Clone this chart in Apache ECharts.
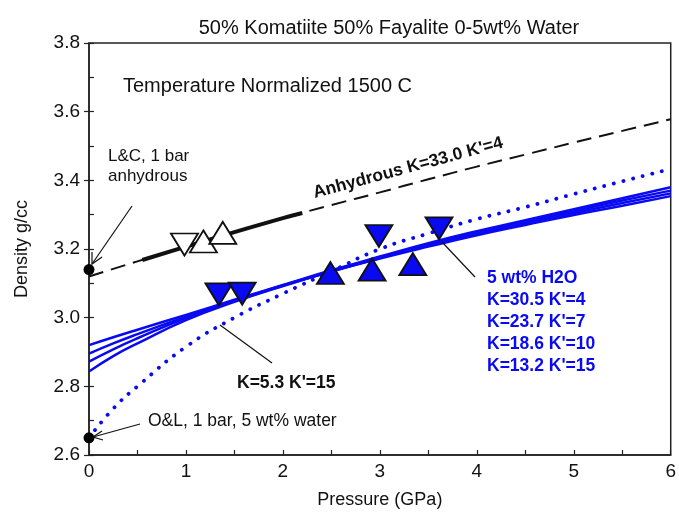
<!DOCTYPE html>
<html>
<head>
<meta charset="utf-8">
<script src="https://cdn.jsdelivr.net/npm/echarts@6/dist/echarts.min.js"></script>
<style>
  html, body { margin: 0; padding: 0; background: #fff; }
  #main { width: 679px; height: 514px; }
</style>
</head>
<body>
<div id="main"></div>
<script>
// pressure grid (GPa) shared by the model curves
var pressure = [0, 0.25, 0.5, 1, 1.5, 2, 2.5, 3, 3.5, 4, 4.5, 5, 5.5, 6];
// anhydrous fit K=33.0 K'=4
var anhydrous = [3.12, 3.142, 3.164, 3.207, 3.249, 3.29, 3.328, 3.365, 3.403, 3.44, 3.475, 3.51, 3.544, 3.578];
// solid part of the anhydrous curve (experimental range)
var anhSolidP = [0.55, 1, 1.5, 2, 2.2];
var anhSolidRho = [3.168, 3.207, 3.249, 3.29, 3.305];
// 5 wt% water fits
var wetK4 = [2.92, 2.943, 2.965, 3.008, 3.052, 3.095, 3.138, 3.178, 3.217, 3.252, 3.284, 3.316, 3.348, 3.38];
var wetK7 = [2.895, 2.925, 2.952, 3.003, 3.05, 3.094, 3.136, 3.176, 3.213, 3.247, 3.279, 3.31, 3.341, 3.37];
var wetK10 = [2.872, 2.908, 2.94, 2.999, 3.048, 3.093, 3.135, 3.174, 3.21, 3.243, 3.275, 3.305, 3.334, 3.362];
var wetK15 = [2.843, 2.888, 2.925, 2.993, 3.046, 3.092, 3.134, 3.172, 3.207, 3.24, 3.27, 3.299, 3.326, 3.354];
// K=5.3 K'=15 from 1 bar O&L density
var wetOL = [2.65, 2.735, 2.80, 2.915, 3.0, 3.07, 3.135, 3.2, 3.245, 3.287, 3.322, 3.36, 3.397, 3.433];

// measured points
var dryDown = [[0.985, 3.213]];
var dryUp = [[1.18, 3.222], [1.38, 3.247]];
var wetDown = [[1.34, 3.068], [1.58, 3.07], [2.99, 3.238], [3.61, 3.26]];
var wetUp = [[2.49, 3.13], [2.92, 3.14], [3.34, 3.156]];
// 1 bar reference densities
var oneBar = [[0, 3.14], [0, 2.65]];

var yTicks = [2.6, 2.8, 3.0, 3.2, 3.4, 3.6, 3.8];

function pairs(xs, ys) {
    return xs.map(function (x, i) { return [x, ys[i]]; });
}

var blue = '#0a0af2';
var font = '"Liberation Sans", Arial, sans-serif';

var myChart = echarts.init(document.getElementById('main'));

function curve(name, data, style) {
    return {
        name: name,
        type: 'line',
        smooth: true,
        showSymbol: false,
        data: data,
        lineStyle: style,
        z: 2
    };
}

function tri(data, down, fill, border) {
    return {
        type: 'scatter',
        symbol: 'triangle',
        symbolSize: [27, 22],
        symbolRotate: down ? 180 : 0,
        data: data,
        itemStyle: { color: fill, borderColor: border, borderWidth: 1.8, opacity: 1 },
        z: 5
    };
}

var option = {
    animation: false,
    textStyle: { fontFamily: font },
    title: {
        text: '50% Komatiite 50% Fayalite 0-5wt% Water',
        left: 384, top: 13, textAlign: 'center',
        textStyle: { fontSize: 20, fontWeight: 'normal', color: '#111', fontFamily: font }
    },
    grid: {
        left: 89, right: 4, top: 43, bottom: 58,
        show: true, borderColor: '#222', borderWidth: 1.5
    },
    xAxis: {
        type: 'value', min: 0, max: 6, interval: 1,
        name: 'Pressure (GPa)', nameLocation: 'middle', nameGap: 36,
        nameTextStyle: { fontSize: 18, color: '#111', fontFamily: font },
        axisLine: { lineStyle: { color: '#222', width: 1.5 } },
        axisTick: { inside: true, length: 5, lineStyle: { color: '#222', width: 1.2 } },
        minorTick: { show: true, splitNumber: 2, length: 5, lineStyle: { color: '#222', width: 1.2 } },
        splitLine: { show: false },
        axisLabel: { fontSize: 19, color: '#111', margin: 7, fontFamily: font }
    },
    yAxis: [{
        type: 'value', min: yTicks[0], max: yTicks[yTicks.length - 1], interval: 0.2,
        name: 'Density g/cc', nameLocation: 'middle', nameGap: 58,
        nameTextStyle: { fontSize: 18, color: '#111', fontFamily: font },
        axisLine: { lineStyle: { color: '#222', width: 1.5 } },
        axisTick: { length: 5, lineStyle: { color: '#222', width: 1.2 } },
        splitLine: { show: false },
        axisLabel: {
            fontSize: 19, color: '#111', margin: 9, fontFamily: font,
            formatter: function (v) { return v.toFixed(1); }
        }
    }, {
        type: 'value', min: 2.6, max: 3.8, interval: 0.1, position: 'left',
        axisLine: { show: false },
        axisTick: { inside: true, length: 5, lineStyle: { color: '#222', width: 1.2 } },
        axisLabel: { show: false },
        splitLine: { show: false }
    }],
    series: [
        curve('Anhydrous', pairs(pressure, anhydrous), { color: '#111', width: 2, type: [15, 8] }),
        curve('Anhydrous solid', pairs(anhSolidP, anhSolidRho), { color: '#111', width: 4 }),
        curve("K=30.5 K'=4", pairs(pressure, wetK4), { color: blue, width: 2.5 }),
        curve("K=23.7 K'=7", pairs(pressure, wetK7), { color: blue, width: 2.5 }),
        curve("K=18.6 K'=10", pairs(pressure, wetK10), { color: blue, width: 2.5 }),
        curve("K=13.2 K'=15", pairs(pressure, wetK15), { color: blue, width: 2.5 }),
        curve("K=5.3 K'=15", pairs(pressure, wetOL), { color: blue, width: 3.8, type: [0.1, 9.8], cap: 'round' }),
        tri(dryDown, true, '#fff', '#111'),
        tri(dryUp, false, '#fff', '#111'),
        tri(wetDown, true, blue, '#111'),
        tri(wetUp, false, blue, '#111'),
        {
            type: 'scatter', symbol: 'circle', symbolSize: 11, clip: false,
            data: oneBar, itemStyle: { color: '#000', opacity: 1 }, z: 6
        }
    ],
    graphic: [
        { type: 'text', left: 123, top: 76, style: { text: 'Temperature Normalized 1500 C', fontSize: 20, fill: '#111', fontFamily: font } },
        { type: 'text', left: 108, top: 146, style: { text: 'L&C, 1 bar\nanhydrous', fontSize: 17, lineHeight: 20, fill: '#111', fontFamily: font } },
        { type: 'text', left: 148, top: 412, style: { text: 'O&L, 1 bar, 5 wt% water', fontSize: 17.5, fill: '#111', fontFamily: font } },
        { type: 'text', left: 237, top: 374, style: { text: "K=5.3 K'=15", fontSize: 17.5, fontWeight: 'bold', fill: '#111', fontFamily: font } },
        {
            type: 'text', x: 408, y: 168, rotation: 15 * Math.PI / 180,
            style: { text: "Anhydrous K=33.0 K'=4", fontSize: 17.5, fontWeight: 'bold', fill: '#111', fontFamily: font, align: 'center', verticalAlign: 'middle' }
        },
        {
            type: 'text', left: 487, top: 267,
            style: { text: "5 wt% H2O\nK=30.5 K'=4\nK=23.7 K'=7\nK=18.6 K'=10\nK=13.2 K'=15", fontSize: 17.5, lineHeight: 22, fontWeight: 'bold', fill: blue, fontFamily: font }
        },
        // pointer lines
        { type: 'line', shape: { x1: 442, y1: 242, x2: 475, y2: 277 }, style: { stroke: '#111', lineWidth: 1.2 }, z: 10 },
        { type: 'line', shape: { x1: 220, y1: 325, x2: 272, y2: 363 }, style: { stroke: '#111', lineWidth: 1.2 }, z: 10 },
        { type: 'line', shape: { x1: 132, y1: 206, x2: 92, y2: 264 }, style: { stroke: '#111', lineWidth: 1.2 }, z: 10 },
        { type: 'polyline', shape: { points: [[92, 252], [92, 264], [102, 257]] }, style: { stroke: '#111', lineWidth: 1.2, fill: null }, z: 10 },
        { type: 'line', shape: { x1: 140, y1: 424, x2: 93, y2: 437 }, style: { stroke: '#111', lineWidth: 1.2 }, z: 10 },
        { type: 'polyline', shape: { points: [[102, 431], [93, 437], [103, 440]] }, style: { stroke: '#111', lineWidth: 1.2, fill: null }, z: 10 }
    ]
};

myChart.setOption(option);
</script>
</body>
</html>
